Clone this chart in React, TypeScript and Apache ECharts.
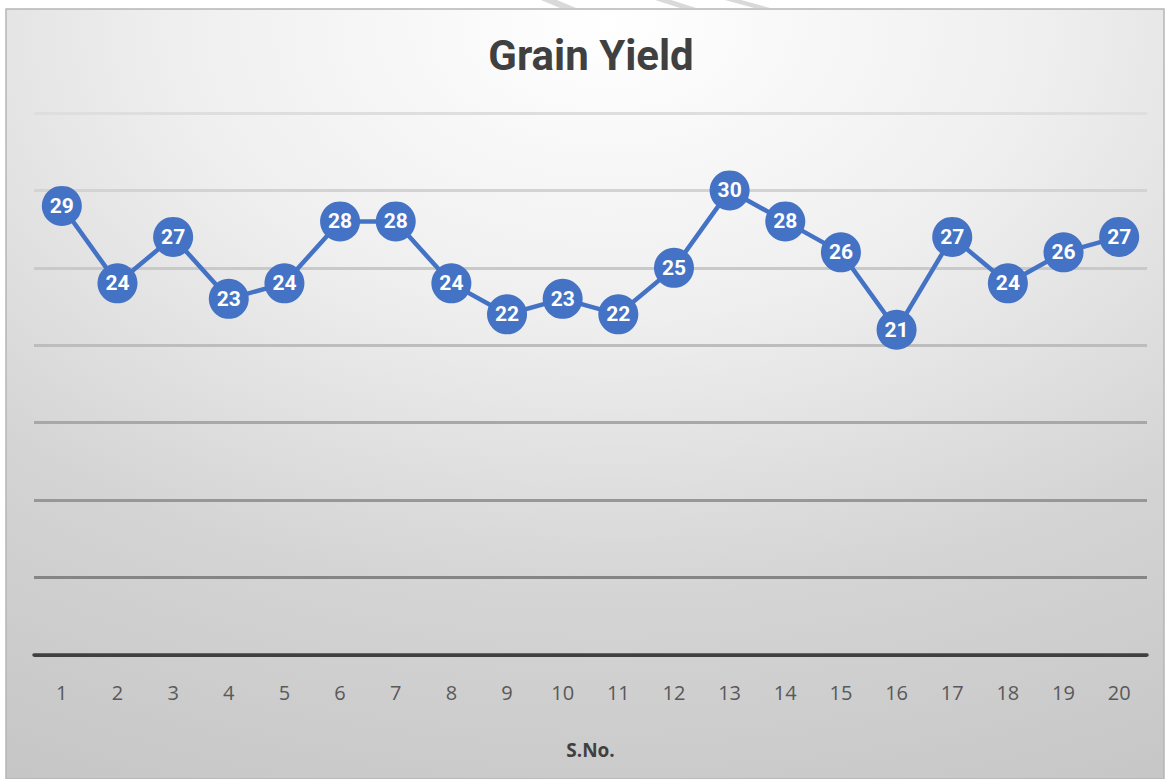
import React, { useEffect, useRef } from "react";
import * as echarts from "echarts";

const categories = ["1","2","3","4","5","6","7","8","9","10","11","12","13","14","15","16","17","18","19","20"];
const grainYield = [29, 24, 27, 23, 24, 28, 28, 24, 22, 23, 22, 25, 30, 28, 26, 21, 27, 24, 26, 27];
const titleText = "Grain Yield";
const xAxisName = "S.No.";
const gridLineColors = ["#404040", "#858585", "#979797", "#a8a8a8", "#bdbdbd", "#c9c9c9", "#d3d3d3", "#dedede"];

const narrow = "'Roboto', sans-serif";

export default function App() {
  const ref = useRef<HTMLDivElement>(null);
  useEffect(() => {
    if (!ref.current) return;
    const chart = echarts.init(ref.current, null, { renderer: "svg" });
    const stripes = [
      [541, 566],
      [655, 686],
      [725, 760],
    ].map(([a, b]) => ({
      type: "polygon",
      z: -20,
      silent: true,
      shape: { points: [[a, 0], [a + 16, 0], [b + 10, 8], [b - 6, 8]] },
      style: { fill: "#d9d9d9" },
    }));
    chart.setOption({
      animation: false,
      backgroundColor: "#ffffff",
      graphic: [
        ...stripes,
        {
          type: "rect",
          z: -10,
          silent: true,
          shape: { x: 6, y: 9, width: 1158, height: 770 },
          style: {
            fill: new echarts.graphic.RadialGradient(0.52, 0.02, 1.25, [
              { offset: 0, color: "#ffffff" },
              { offset: 0.3, color: "#efefef" },
              { offset: 0.6, color: "#d4d4d4" },
              { offset: 1, color: "#c0c0c0" },
            ]),
            stroke: "#b5b5b5",
            lineWidth: 1.5,
          },
        },
      ],
      title: {
        text: titleText,
        left: 586,
        top: 29,
        textAlign: "center",
        textStyle: { fontSize: 42, fontWeight: "bold", color: "#404040", fontFamily: narrow },
      },
      grid: { left: 34, right: 18, top: 113, bottom: 124, containLabel: false },
      xAxis: {
        type: "category",
        data: categories,
        boundaryGap: true,
        axisLine: { show: true, lineStyle: { color: "#404040", width: 3.5 } },
        axisTick: { show: false },
        axisLabel: { color: "#595959", fontSize: 20, margin: 27, fontFamily: "'Open Sans', sans-serif" },
        name: xAxisName,
        nameLocation: "middle",
        nameGap: 85,
        nameTextStyle: { fontSize: 19, fontWeight: "bold", color: "#404040", fontFamily: "'Open Sans', sans-serif" },
        splitLine: { show: false },
      },
      yAxis: {
        type: "value",
        min: 0,
        max: 35,
        interval: 5,
        axisLabel: { show: false },
        axisLine: { show: false },
        axisTick: { show: false },
        splitLine: { show: true, lineStyle: { color: gridLineColors, width: 3 } },
      },
      series: [
        {
          type: "line",
          data: grainYield,
          symbol: "circle",
          symbolSize: 40,
          lineStyle: { color: "#4472C4", width: 4.5 },
          itemStyle: { color: "#4472C4" },
          label: {
            show: true,
            position: "inside",
            color: "#ffffff",
            fontWeight: "bold",
            fontSize: 21,
            fontFamily: narrow,
          },
        },
      ],
    });
    return () => chart.dispose();
  }, []);
  return <div ref={ref} style={{ position: "fixed", left: 0, top: 0, width: 1165, height: 779 }} />;
}
